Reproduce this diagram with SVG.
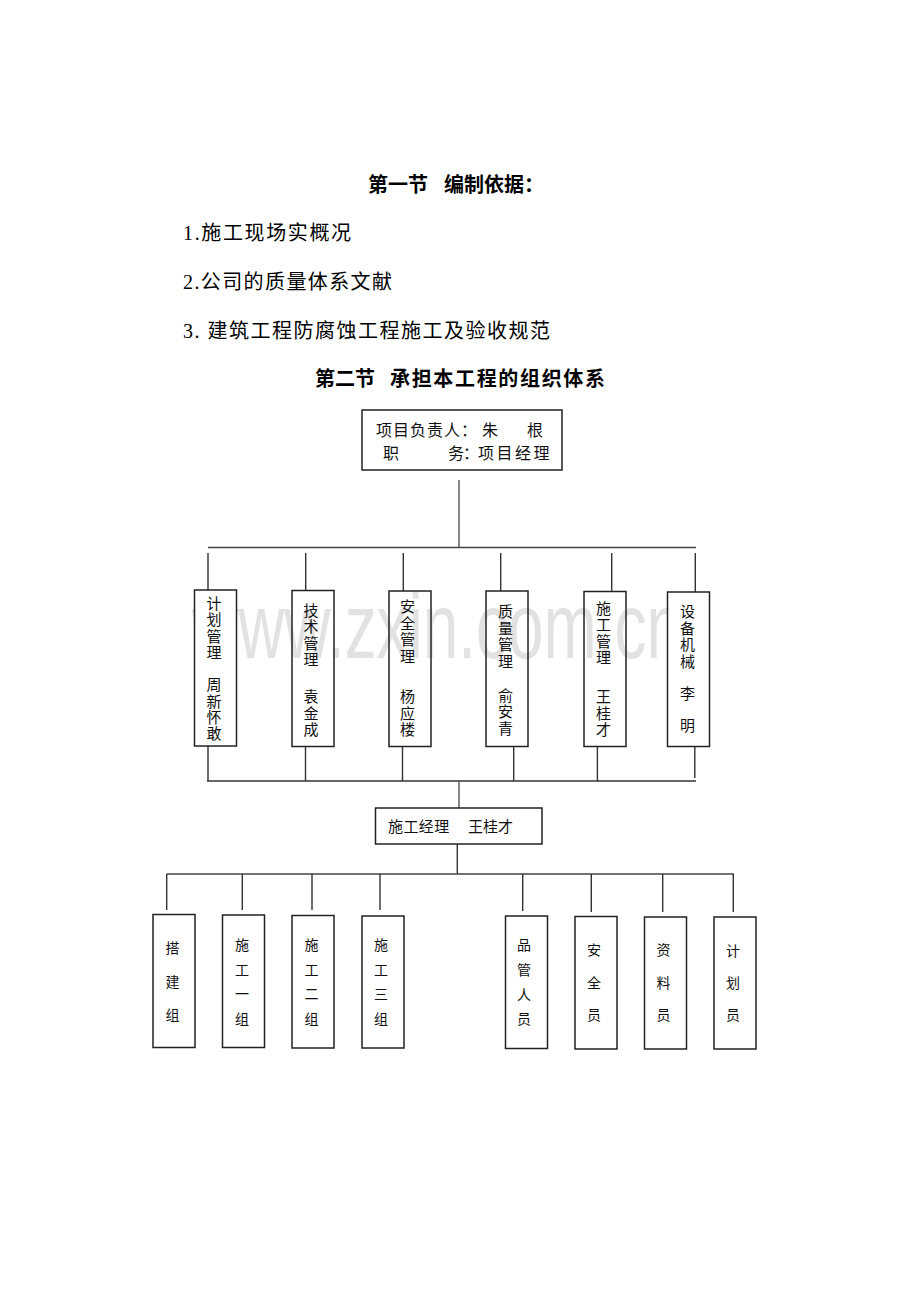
<svg xmlns="http://www.w3.org/2000/svg" width="920" height="1302" viewBox="0 0 920 1302">
<style>
  .bg{fill:#ffffff}
  .h{font-family:"Liberation Serif","Noto Sans CJK SC",serif;font-size:20px;font-weight:bold;fill:#000}
  .p{font-family:"Liberation Serif","Noto Sans CJK SC",serif;font-size:20px;fill:#000}
  .t{font-family:"Liberation Serif","Noto Sans CJK SC",serif;font-size:16px;fill:#111}
  .v{font-family:"Liberation Serif","Noto Sans CJK SC",serif;font-size:15px;fill:#111;text-anchor:middle}
  .w{font-family:"Liberation Serif","Noto Sans CJK SC",serif;font-size:14px;fill:#111;text-anchor:middle}
  .box{fill:none;stroke:#222;stroke-width:1.5}
  .boxw{fill:#fff;stroke:#222;stroke-width:1.5}
  .ln{fill:none;stroke:#333;stroke-width:1.4}
  .wm{font-family:"Liberation Sans",Arial,sans-serif;font-size:92px;fill:#e2e2e2}
</style>
<rect class="bg" x="0" y="0" width="920" height="1302"/>

<g id="text-top">
  <text class="h" x="368" y="192">第一节</text>
  <text class="h" x="444" y="192">编制依据：</text>
  <text class="p" x="183" y="240" textLength="168" lengthAdjust="spacing">1.施工现场实概况</text>
  <text class="p" x="183" y="289" textLength="209" lengthAdjust="spacing">2.公司的质量体系文献</text>
  <text class="p" x="183" y="338" textLength="367" lengthAdjust="spacing">3. 建筑工程防腐蚀工程施工及验收规范</text>
  <text class="h" x="315" y="386">第二节</text>
  <text class="h" x="390" y="386" textLength="215" lengthAdjust="spacing">承担本工程的组织体系</text>
</g>

<text class="wm" x="192" y="658" textLength="490" lengthAdjust="spacingAndGlyphs">www.zxin.com.cn</text>

<g id="connectors">
  <line class="ln" x1="459" y1="480" x2="459" y2="547.5" style="stroke:#555"/>
  <line class="ln" x1="208" y1="547.5" x2="696" y2="547.5" style="stroke:#444"/>
  <path class="ln" d="M208 553V590M305.7 553V590.5M403.3 553V591M500.7 553V591M611.7 553V591.5M695.3 553V592"/>
  <path class="ln" d="M208 746V781M305.5 746.5V781M402.5 746.5V781M513.7 746.5V781M597.4 747V781M694.8 746.5V778"/>
  <line class="ln" x1="207" y1="781" x2="696" y2="781"/>
  <line class="ln" x1="459" y1="781" x2="459" y2="808" style="stroke:#555"/>
  <line class="ln" x1="457.3" y1="844" x2="457.3" y2="874"/>
  <line class="ln" x1="166.7" y1="874" x2="734" y2="874" style="stroke:#444"/>
  <path class="ln" d="M166.7 874V910M242.3 874V910M312 874V910M380 874V910M522.7 874V911M591.3 874V912M662.7 874V912M733.3 874V912"/>
</g>

<g id="n-manager">
  <rect class="box" x="362" y="410" width="200" height="60"/>
  <text class="t" x="376 393 410 427 444 461 482" y="435.5">项目负责人：朱</text>
  <text class="t" x="527" y="435.5">根</text>
  <text class="t" x="383" y="459">职</text>
  <text class="t" x="448 463 478 496.5 515 533.5" y="459">务：项目经理</text>
</g>

<g id="n-plan">
  <rect class="boxw" x="194.5" y="590" width="42" height="156"/>
  <text class="v" x="214 214 214 214 214 214 214 214" y="608.5 625 641.5 658 690 706.5 723 739">计划管理周新怀敢</text>
</g>
<g id="n-tech">
  <rect class="box" x="292" y="590.5" width="42" height="156"/>
  <text class="v" x="311 311 311 311 311 311 311" y="615.5 632 648.5 665 702 718.5 735">技术管理袁金成</text>
</g>
<g id="n-safety">
  <rect class="box" x="389" y="591" width="42" height="155.5"/>
  <text class="v" x="407.5 407.5 407.5 407.5 407.5 407.5 407.5" y="612 628.5 645 661.5 702 718.5 735">安全管理杨应楼</text>
</g>
<g id="n-quality">
  <rect class="box" x="486" y="591" width="42" height="155.5"/>
  <text class="v" x="505.5 505.5 505.5 505.5 505.5 505.5 505.5" y="617 633.5 650 666.5 700.5 717 733.5">质量管理俞安青</text>
</g>
<g id="n-construct">
  <rect class="box" x="584" y="591.5" width="42" height="155"/>
  <text class="v" x="603.5 603.5 603.5 603.5 603.5 603.5 603.5" y="613.5 630 646.5 663 702 718.5 735">施工管理王桂才</text>
</g>
<g id="n-equip">
  <rect class="boxw" x="667.5" y="592" width="42" height="154.5"/>
  <text class="v" x="687.5 687.5 687.5 687.5 687.5 687.5" y="617 633.5 650 666.5 698.5 730.5">设备机械李明</text>
</g>

<g id="n-site-manager">
  <rect class="box" x="375.5" y="808" width="166.5" height="36"/>
  <text class="v" x="388" y="831.5" style="text-anchor:start" letter-spacing="0.4">施工经理</text>
  <text class="v" x="468" y="831.5" style="text-anchor:start">王桂才</text>
</g>

<g id="n-g1">
  <rect class="box" x="153" y="914.5" width="42" height="133"/>
  <text class="w" x="172.5 172.5 172.5" y="953.3 986.7 1020">搭建组</text>
</g>
<g id="n-g2">
  <rect class="box" x="222.5" y="915" width="42" height="132.5"/>
  <text class="w" x="242 242 242 242" y="950 974.7 999.3 1024">施工一组</text>
</g>
<g id="n-g3">
  <rect class="box" x="292" y="915.5" width="42" height="132.5"/>
  <text class="w" x="311.5 311.5 311.5 311.5" y="950 974.7 999.3 1024">施工二组</text>
</g>
<g id="n-g4">
  <rect class="box" x="362" y="916" width="42" height="132"/>
  <text class="w" x="381 381 381 381" y="950 974.7 999.3 1024">施工三组</text>
</g>
<g id="n-g5">
  <rect class="box" x="505.5" y="916" width="42" height="132.5"/>
  <text class="w" x="524 524 524 524" y="950 975 1000 1024">品管人员</text>
</g>
<g id="n-g6">
  <rect class="box" x="575" y="916.5" width="42" height="132.5"/>
  <text class="w" x="594 594 594" y="955 988.3 1020">安全员</text>
</g>
<g id="n-g7">
  <rect class="box" x="644.5" y="917" width="42" height="132"/>
  <text class="w" x="663.5 663.5 663.5" y="955 988.3 1020">资料员</text>
</g>
<g id="n-g8">
  <rect class="box" x="714" y="917" width="42" height="132"/>
  <text class="w" x="733 733 733" y="956 988.3 1020">计划员</text>
</g>
</svg>
